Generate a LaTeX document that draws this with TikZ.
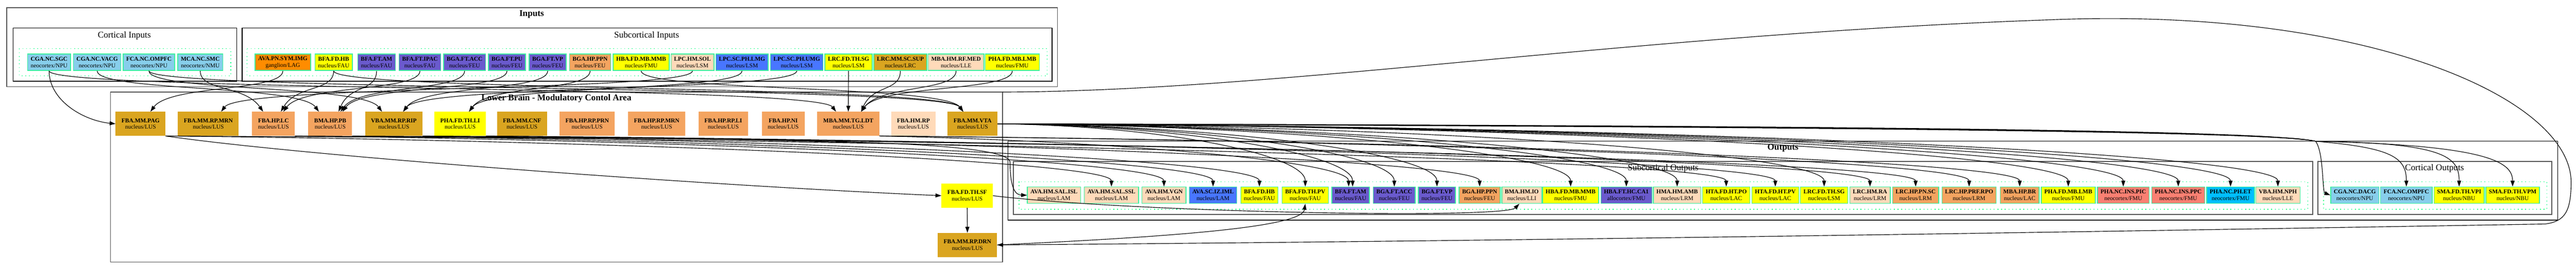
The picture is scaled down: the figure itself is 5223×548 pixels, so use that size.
\documentclass[tikz,border=0pt]{standalone}
\usepackage{fontspec}
\setmainfont{Liberation Serif}
\usetikzlibrary{arrows.meta,calc}
\definecolor{csky}{HTML}{87CEEB}
\definecolor{corange}{HTML}{FF8C00}
\definecolor{cyel}{HTML}{FFFF00}
\definecolor{cslate}{HTML}{6A5ACD}
\definecolor{csandy}{HTML}{F4A460}
\definecolor{cpeach}{HTML}{FFDAB9}
\definecolor{croyal}{HTML}{4876FF}
\definecolor{cgold}{HTML}{DAA520}
\definecolor{csalmon}{HTML}{FA8072}
\definecolor{cdeep}{HTML}{00BFFF}
\definecolor{ngreen}{HTML}{3CF0A0}
\definecolor{dgreen}{HTML}{00FF7F}
\definecolor{cgray}{HTML}{555555}
\newcommand\ionode[5]{\node[io,fill=#3] (#1) at (#2) {\textbf{#4}\\#5};}
\newcommand\lbnode[5]{\node[lbn,fill=#3] (#1) at (#2) {\textbf{#4}\\#5};}
\newcommand\ine[3]{\draw[edge] let \p1=(#1.south), \p2=([xshift=#3pt]#2.north) in (\p1) .. controls (\x1,-186pt) and ({\x2+max(-40,min(40,0.3*(\x1-\x2)))},-172pt) .. (\p2);}
\newcommand\lbo[3]{\draw[edge] let \p1=(#1), \p2=([xshift=#3pt]#2.north) in (\p1) .. controls ({\x1+0.45*(\x2-\x1)},-285pt) and (\x2,-325pt) .. (\p2);}
\newcommand\vto[2]{\draw[edge] let \p1=(lb14.east), \p2=([xshift=#2pt]#1.north) in (\p1) .. controls ({\x1+0.55*(\x2-\x1)},-256pt) and (\x2,-315pt) .. (\p2);}
\begin{document}
\begin{tikzpicture}[x=1pt,y=1pt,
  nd/.style={align=center,font=\fontsize{12}{13.5}\selectfont,text=black},
  io/.style={nd,draw=ngreen,line width=1.5pt,minimum height=33.5pt,inner xsep=6.3pt,inner ysep=1pt},
  lbn/.style={nd,minimum height=49pt,inner xsep=12pt,inner ysep=1pt},
  edge/.style={draw=black,line width=1.2pt,-{Triangle[length=12pt,width=8pt]}},
  outerbox/.style={draw=cgray,line width=2pt},
  innerbox/.style={draw=black,line width=1.3pt},
  dotbox/.style={draw=dgreen,line width=1.5pt,dash pattern=on 1.5pt off 6pt},
  ttl/.style={font=\fontsize{18}{21}\selectfont},
  bttl/.style={font=\bfseries\fontsize{18}{21}\selectfont}]
\path[use as bounding box,fill=white] (0,0) rectangle (5223,-548);

% clusters
\draw[outerbox] (14,-16) rectangle (2144,-176);
\draw[innerbox] (27,-57) rectangle (480,-165);
\draw[dotbox] (39,-99) rectangle (468,-154);
\draw[innerbox] (491,-57) rectangle (2133,-165);
\draw[dotbox] (501,-99) rectangle (2123,-154);
\draw[draw=cgray,line width=1.6pt] (224,-187) rectangle (2033,-532);
\draw[innerbox] (2044,-287) rectangle (5186,-447);
\draw[outerbox] (2055,-328) rectangle (4689,-436);
\draw[dotbox] (2066,-369) rectangle (4679,-425);
\draw[outerbox] (4700,-328) rectangle (5174,-436);
\draw[dotbox] (4711,-369) rectangle (5164,-425);
\coordinate (lbtr) at (2033,-187);

\node[bttl] (tin) at (1078,-29) {Inputs};
\node[ttl] (tci) at (252,-72) {Cortical Inputs};
\node[ttl] (tsi) at (1311,-72) {Subcortical Inputs};
\node[bttl] (tlb) at (1128,-200) {Lower Brain - Modulatory Contol Area};
\node[bttl] (tout) at (3615,-300) {Outputs};
\node[ttl] (tso) at (3372,-342) {Subcortical Outputs};
\node[ttl] (tco) at (4936,-342) {Cortical Outputs};

% cortical inputs
\ionode{ci1}{99.5,-126.5}{csky}{CGA.NC.SGC}{neocortex/NPU}
\ionode{ci2}{197,-126.5}{csky}{CGA.NC.VACG}{neocortex/NPU}
\ionode{ci3}{302,-126.5}{csky}{FCA.NC.OMPFC}{neocortex/NPU}
\ionode{ci4}{406,-126.5}{csky}{MCA.NC.SMC}{neocortex/NMU}
% subcortical inputs
\ionode{si1}{573.5,-126.5}{corange}{AVA.PN.SYM.IMG}{ganglion/LAG}
\ionode{si2}{676.5,-126.5}{cyel}{BFA.FD.HB}{nucleus/FAU}
\ionode{si3}{763.5,-126.5}{cslate}{BFA.FT.AM}{nucleus/FAU}
\ionode{si4}{851.5,-126.5}{cslate}{BFA.FT.IPAC}{nucleus/FAU}
\ionode{si5}{942,-126.5}{cslate}{BGA.FT.ACC}{nucleus/FEU}
\ionode{si6}{1028,-126.5}{cslate}{BGA.FT.PU}{nucleus/FEU}
\ionode{si7}{1110.5,-126.5}{cslate}{BGA.FT.VP}{nucleus/FEU}
\ionode{si8}{1196.5,-126.5}{csandy}{BGA.HP.PPN}{nucleus/FEU}
\ionode{si9}{1300,-126.5}{cyel}{HBA.FD.MB.MMB}{nucleus/FMU}
\ionode{si10}{1404,-126.5}{cpeach}{LPC.HM.SOL}{nucleus/LSM}
\ionode{si11}{1504.5,-126.5}{croyal}{LPC.SC.PH.LMG}{nucleus/LSM}
\ionode{si12}{1615.5,-126.5}{croyal}{LPC.SC.PH.UMG}{nucleus/LSM}
\ionode{si13}{1720.5,-126.5}{cyel}{LRC.FD.TH.SG}{nucleus/LSM}
\ionode{si14}{1825.5,-126.5}{cgold}{LRC.MM.SC.SUP}{nucleus/LRC}
\ionode{si15}{1938.5,-126.5}{cpeach}{MBA.HM.RF.MED}{nucleus/LLE}
\ionode{si16}{2052.5,-126.5}{cyel}{PHA.FD.MB.LMB}{nucleus/FMU}

% lower brain
\lbnode{lb1}{285,-251.5}{cgold}{FBA.MM.PAG}{nucleus/LUS}
\lbnode{lb2}{422.5,-251.5}{cgold}{FBA.MM.RP.MRN}{nucleus/LUS}
\lbnode{lb3}{554.5,-251.5}{csandy}{FBA.HP.LC}{nucleus/LUS}
\lbnode{lb4}{669.5,-251.5}{csandy}{BMA.HP.PB}{nucleus/LUS}
\lbnode{lb5}{798.5,-251.5}{cgold}{VBA.MM.RP.RIP}{nucleus/LUS}
\lbnode{lb6}{933,-251.5}{cyel}{PHA.FD.TH.LI}{nucleus/LUS}
\lbnode{lb7}{1058.5,-251.5}{cgold}{FBA.MM.CNF}{nucleus/LUS}
\lbnode{lb8}{1190.5,-251.5}{csandy}{FBA.HP.RP.PRN}{nucleus/LUS}
\lbnode{lb9}{1331.5,-251.5}{csandy}{FBA.HP.RP.MRN}{nucleus/LUS}
\lbnode{lb10}{1466.5,-251.5}{csandy}{FBA.HP.RP.LI}{nucleus/LUS}
\lbnode{lb11}{1588,-251.5}{csandy}{FBA.HP.NI}{nucleus/LUS}
\lbnode{lb12}{1720,-251.5}{csandy}{MBA.MM.TG.LDT}{nucleus/LUS}
\lbnode{lb13}{1852,-251.5}{cpeach}{FBA.HM.RP}{nucleus/LUS}
\lbnode{lb14}{1972,-251.5}{cgold}{FBA.MM.VTA}{nucleus/LUS}
\lbnode{sf}{1961,-397.5}{cyel}{FBA.FD.TH.SF}{nucleus/LUS}
\lbnode{drn}{1961.5,-497.5}{cgold}{FBA.MM.RP.DRN}{nucleus/LUS}

% subcortical outputs
\ionode{so1}{2137,-396.5}{cpeach}{AVA.HM.SAL.ISL}{nucleus/LAM}
\ionode{so2}{2253.5,-396.5}{cpeach}{AVA.HM.SAL.SSL}{nucleus/LAM}
\ionode{so3}{2360,-396.5}{cpeach}{AVA.HM.VGN}{nucleus/LAM}
\ionode{so4}{2459.5,-396.5}{croyal}{AVA.SC.IZ.IML}{nucleus/LAM}
\ionode{so5}{2553.5,-396.5}{cyel}{BFA.FD.HB}{nucleus/FAU}
\ionode{so6}{2646.5,-396.5}{cyel}{BFA.FD.TH.PV}{nucleus/FAU}
\ionode{so7}{2738.5,-396.5}{cslate}{BFA.FT.AM}{nucleus/FAU}
\ionode{so8}{2827,-396.5}{cslate}{BGA.FT.ACC}{nucleus/FEU}
\ionode{so9}{2913.5,-396.5}{cslate}{BGA.FT.VP}{nucleus/FEU}
\ionode{so10}{3000,-396.5}{csandy}{BGA.HP.PPN}{nucleus/FEU}
\ionode{so11}{3085.5,-396.5}{cpeach}{BMA.HM.IO}{nucleus/LLI}
\ionode{so12}{3184.5,-396.5}{cyel}{HBA.FD.MB.MMB}{nucleus/FMU}
\ionode{so13}{3297.5,-396.5}{cslate}{HBA.FT.HC.CA1}{allocortex/FMU}
\ionode{so14}{3400.5,-396.5}{cpeach}{HMA.HM.AMB}{nucleus/LRM}
\ionode{so15}{3500,-396.5}{cyel}{HTA.FD.HT.PO}{nucleus/LAC}
\ionode{so16}{3599.5,-396.5}{cyel}{HTA.FD.HT.PV}{nucleus/LAC}
\ionode{so17}{3698.5,-396.5}{cyel}{LRC.FD.TH.SG}{nucleus/LSM}
\ionode{so18}{3791.5,-396.5}{cpeach}{LRC.HM.RA}{nucleus/LRM}
\ionode{so19}{3884,-396.5}{csandy}{LRC.HP.PN.SC}{nucleus/LRM}
\ionode{so20}{3992.5,-396.5}{csandy}{LRC.HP.PRF.RPO}{nucleus/LRM}
\ionode{so21}{4095,-396.5}{csandy}{MBA.HP.BR}{nucleus/LAC}
\ionode{so22}{4193.5,-396.5}{cyel}{PHA.FD.MB.LMB}{nucleus/FMU}
\ionode{so23}{4305,-396.5}{csalmon}{PHA.NC.INS.PIC}{neocortex/FMU}
\ionode{so24}{4416.5,-396.5}{csalmon}{PHA.NC.INS.PPC}{neocortex/FMU}
\ionode{so25}{4522.5,-396.5}{cdeep}{PHA.NC.PH.ET}{neocortex/FMU}
\ionode{so26}{4618.5,-396.5}{cpeach}{VBA.HM.NPH}{nucleus/LLE}
% cortical outputs
\ionode{co1}{4774.5,-396.5}{csky}{CGA.NC.DACG}{neocortex/NPU}
\ionode{co2}{4879,-396.5}{csky}{FCA.NC.OMPFC}{neocortex/NPU}
\ionode{co3}{4986,-396.5}{cyel}{SMA.FD.TH.VPI}{nucleus/NBU}
\ionode{co4}{5094.5,-396.5}{cyel}{SMA.FD.TH.VPM}{nucleus/NBU}

% input edges
\draw[edge] (ci1.south) .. controls (100,-205) and (170,-245) .. (lb1.west);
\ine{ci1}{lb12}{-25}
\ine{ci2}{lb4}{-23}
\ine{ci3}{lb5}{-24}
\ine{ci3}{lb14}{-19}
\ine{ci4}{lb3}{-21}
\ine{si1}{lb1}{20}
\ine{si2}{lb3}{15}
\ine{si4}{lb3}{20}
\ine{si3}{lb4}{17}
\ine{si5}{lb4}{21}
\ine{si6}{lb4}{25}
\ine{si7}{lb5}{19}
\ine{si8}{lb6}{18}
\ine{si10}{lb2}{26}
\draw[edge] (si13.south) -- (lb12.north);
\ine{si14}{lb12}{26}
\ine{si11}{lb6}{18}
\ine{si12}{lb5}{19}
\ine{si15}{lb12}{26}
\ine{si16}{lb12}{26}
\ine{si9}{lb14}{-19}
\ine{si2}{lb14}{-19}

% lower brain internal
\draw[edge] (lb1.south east) .. controls (600,-315) and (1400,-375) .. (sf.west);
\draw[edge] (sf.south) -- (drn.north);

% output edges
\draw[edge] (lb1.south east) .. controls (1400,-283) and (2048,-275) .. (2048,-330) .. controls (2048,-385) and (2060,-396) .. (so1.west);
\lbo{lb1.south east}{so2}{0}
\lbo{lb3.south east}{so3}{0}
\lbo{lb3.south east}{so15}{0}
\lbo{lb4.south east}{so4}{0}
\lbo{lb4.south east}{so19}{0}
\lbo{lb5.south east}{so5}{0}
\lbo{lb5.south east}{so18}{0}
\lbo{lb6.south east}{so10}{0}
\lbo{lb6.south east}{so16}{0}
\lbo{lb12.south east}{so7}{-4}
\lbo{lb12.south east}{so20}{0}
\lbo{lb12.south east}{so21}{0}
\vto{so6}{0}
\vto{so7}{4}
\vto{so8}{0}
\vto{so9}{0}
\vto{so12}{0}
\vto{so13}{0}
\vto{so14}{0}
\vto{so17}{0}
\vto{so22}{0}
\vto{so23}{0}
\vto{so24}{0}
\vto{so25}{0}
\vto{so26}{0}
\draw[edge] (lb14.east) .. controls (3500,-254) and (4600,-262) .. (4695,-287) .. controls (4712,-310) and (4708,-390) .. (co1.west);
\draw[edge] (lb14.east) .. controls (3500,-255) and (4600,-263) .. (4695,-287) .. controls (4850,-300) and (4879,-320) .. (co2.north);
\draw[edge] (lb14.east) .. controls (3500,-256) and (4600,-264) .. (4695,-287) .. controls (4960,-290) and (4986,-320) .. (co3.north);
\draw[edge] (lb14.east) .. controls (3500,-257) and (4600,-265) .. (4695,-287) .. controls (5050,-295) and (5094,-330) .. (co4.north);
\draw[edge] (sf.east) .. controls (2300,-432) and (3050,-445) .. ([xshift=-5pt]so11.south);
\draw[edge] (drn.east) .. controls (2400,-480) and (2640,-460) .. (so6.south);
\draw[edge] (lbtr) .. controls (2600,-185) and (3300,-70) .. (4163,-40) .. controls (4800,-15) and (5213,-200) .. (5213,-370) .. controls (5213,-430) and (5200,-450) .. (5160,-455) .. controls (4000,-475) and (3000,-490) .. (drn.east);
\end{tikzpicture}
\end{document}
